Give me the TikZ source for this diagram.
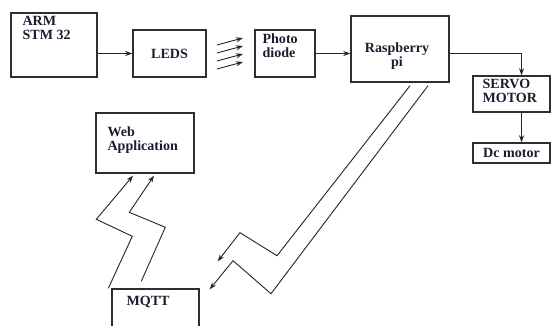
\documentclass[tikz,border=0pt]{standalone}
\usepackage{fontspec}
\setmainfont{Liberation Serif}
\usepackage{tikz}
\usetikzlibrary{arrows.meta, positioning, calc}
\definecolor{boxline}{HTML}{2E2E2E}
\definecolor{wire}{HTML}{262626}
\definecolor{labeltext}{HTML}{1C1C30}
\tikzset{
  blk/.style 2 args={draw=boxline, line width=1pt, rectangle, inner sep=0pt,
    minimum width=#1*0.025cm, minimum height=#2*0.025cm,
    font=\bfseries\fontsize{10}{10}\selectfont, text=labeltext},
  lbl/.style={font=\bfseries\fontsize{10}{10}\selectfont, text=labeltext, align=left, inner sep=0pt},
  wireline/.style={draw=wire, line width=0.65pt}
}

\begin{document}
\begin{tikzpicture}[x=0.025cm, y=-0.025cm, >={Stealth[length=5pt,width=3.6pt]}]
\clip (0,0) rectangle (551,326);
% Top row
\node[blk={86}{64}] (arm) at (54,45) {};
\node[lbl, anchor=north west] (armlbl) at ($(arm.north west)+(12,4)$) {ARM\\STM 32};
\node[blk={73}{47}] (leds) at (169.5,53.5) {LEDS};
\node[blk={60}{47}] (photo) at (285,53.5) {};
\node[lbl, anchor=north west] (photolbl) at ($(photo.north west)+(8,4)$) {Photo\\diode};
\node[blk={98}{66}] (rasp) at (400,49) {};
\node[lbl, align=center] (rasplbl) at ($(rasp)+(-3,7)$) {Raspberry\\pi};
% Motors
\node[blk={77}{36}] (servo) at (511.5,94) {};
\node[lbl, anchor=north west] (servolbl) at ($(servo.north west)+(10,4)$) {SERVO\\MOTOR};
\node[blk={77}{20}] (dc) at (511.5,153) {Dc motor};
% Web side
\node[blk={98}{60}] (web) at (145,143) {};
\node[lbl, anchor=north west] (weblbl) at ($(web.north west)+(12,14)$) {Web\\Application};
\node[blk={87}{51}] (mqtt) at (155.5,314.5) {};
\node[lbl, anchor=north west] (mqttlbl) at ($(mqtt.north west)+(15,8)$) {MQTT};
% Straight links
\draw[wireline, ->] (arm.east |- leds.west) -- (leds.west);
\draw[wireline, ->] (photo.east) -- (photo.east -| rasp.west);
\draw[wireline, ->] (rasp.east |- photo.east) -| ([xshift=0.25cm]servo.north);
\draw[wireline, ->] ([xshift=0.25cm]servo.south) -- ([xshift=0.25cm]dc.north);
% Light rays
\foreach \i in {0,...,3}
  \draw[wireline, ->] (217,{45+8*\i}) -- ++(26,-7);
% Wireless links
\draw[wireline, ->] ($(rasp.south)+(10,3)$) -- ++(-133,170) -- ++(-37,-23) -- ($(mqtt.north east)+(18,-27)$);
\draw[wireline, ->] ($(rasp.south)+(28,3)$) -- ++(-157,208) -- ++(-38,-33) -- ($(mqtt.north east)+(10,1)$);
\draw[wireline, ->] ($(mqtt.north west)+(-3,0)$) -- ++(24,-52) -- ++(-36,-17) -- ($(web.south)+(-12,2)$);
\draw[wireline, ->] ($(mqtt.north west)+(30,-7)$) -- ++(24,-54) -- ++(-36,-15) -- ($(web.south)+(9,2)$);
\end{tikzpicture}
\end{document}
